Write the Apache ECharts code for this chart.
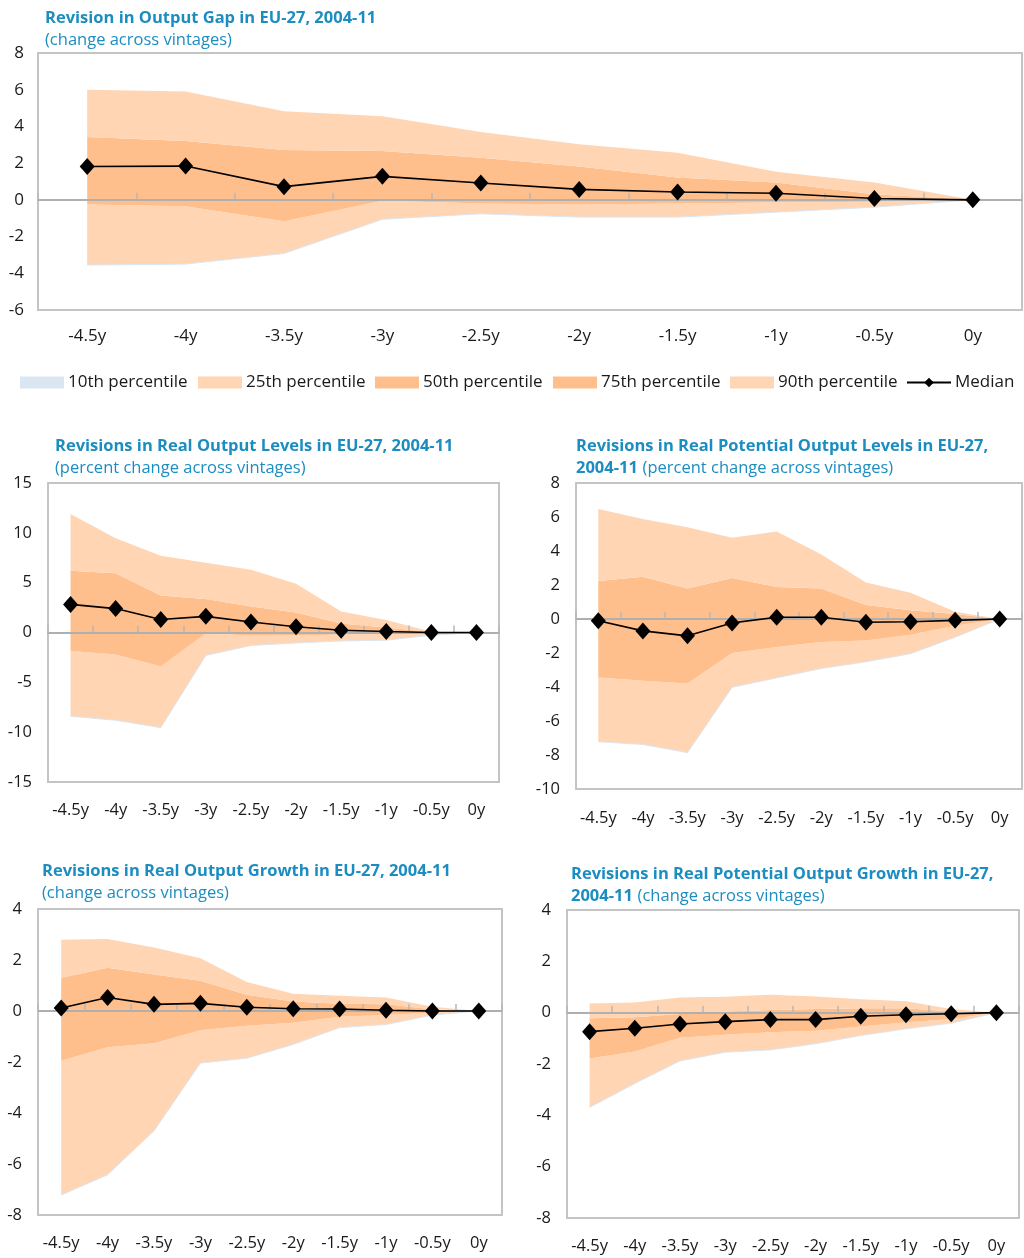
<!DOCTYPE html>
<html>
<head>
<meta charset="utf-8">
<script src="https://cdn.jsdelivr.net/npm/echarts@6/dist/echarts.min.js"></script>
<style>
html,body{margin:0;padding:0;background:#fff;}
#c{width:1024px;height:1258px;}
</style>
</head>
<body>
<div id="c"></div>
<script>
// ---- Data ----
var categories = ['-4.5y','-4y','-3.5y','-3y','-2.5y','-2y','-1.5y','-1y','-0.5y','0y'];

// Chart 1: Revision in Output Gap
var gapP10    = [-3.55,-3.5,-2.92,-1.06,-0.76,-0.94,-0.94,-0.67,-0.4,0];
var gapP25    = [-0.25,-0.35,-1.16,-0.05,-0.2,-0.25,-0.2,-0.15,-0.1,0];
var gapMedian = [1.82,1.84,0.72,1.28,0.92,0.57,0.43,0.36,0.07,0];
var gapP75    = [3.42,3.2,2.72,2.66,2.3,1.82,1.22,0.95,0.3,0];
var gapP90    = [6.0,5.9,4.83,4.55,3.7,3.03,2.57,1.53,0.95,0];

// Chart 2: Real Output Levels
var lvlP10    = [-8.4,-8.8,-9.55,-2.3,-1.3,-1.05,-0.85,-0.77,-0.27,0];
var lvlP25    = [-1.85,-2.2,-3.4,-0.1,-0.3,-0.3,-0.2,-0.1,0,0];
var lvlMedian = [2.82,2.4,1.3,1.62,1.05,0.57,0.23,0.1,0,0];
var lvlP75    = [6.2,5.95,3.7,3.35,2.6,2.0,0.9,0.5,0.05,0];
var lvlP90    = [11.9,9.45,7.7,7.0,6.3,4.9,2.1,1.25,0.07,0];

// Chart 3: Real Potential Output Levels
var potP10    = [-7.22,-7.38,-7.86,-4.02,-3.46,-2.91,-2.52,-2.04,-1.07,0];
var potP25    = [-3.44,-3.63,-3.79,-2.0,-1.65,-1.36,-1.26,-0.93,-0.39,0];
var potMedian = [-0.1,-0.7,-0.99,-0.23,0.1,0.1,-0.19,-0.16,-0.08,0];
var potP75    = [2.23,2.49,1.79,2.41,1.88,1.79,0.82,0.52,0.29,0];
var potP90    = [6.47,5.88,5.4,4.78,5.15,3.79,2.14,1.55,0.43,0];

// Chart 4: Real Output Growth
var grP10     = [-7.22,-6.42,-4.7,-2.04,-1.85,-1.31,-0.65,-0.53,-0.16,0];
var grP25     = [-1.95,-1.42,-1.26,-0.75,-0.58,-0.46,-0.23,-0.16,-0.07,0];
var grMedian  = [0.12,0.53,0.26,0.3,0.15,0.09,0.08,0.03,0,0];
var grP75     = [1.3,1.7,1.43,1.19,0.64,0.37,0.28,0.26,0.07,0];
var grP90     = [2.79,2.82,2.49,2.07,1.14,0.68,0.6,0.53,0.17,0];

// Chart 5: Real Potential Output Growth
var pgP10     = [-3.69,-2.76,-1.88,-1.54,-1.45,-1.21,-0.89,-0.63,-0.41,0];
var pgP25     = [-1.79,-1.51,-0.98,-0.86,-0.76,-0.7,-0.54,-0.37,-0.25,0];
var pgMedian  = [-0.74,-0.61,-0.44,-0.35,-0.27,-0.27,-0.14,-0.08,-0.04,0];
var pgP75     = [-0.22,-0.18,-0.05,0.05,0.1,0.14,0.17,0.17,0.05,0];
var pgP90     = [0.36,0.4,0.59,0.62,0.7,0.63,0.52,0.44,0.14,0];

var yTicks1 = {min:-6,max:8,interval:2};
var yTicks2 = {min:-15,max:15,interval:5};
var yTicks3 = {min:-10,max:8,interval:2};
var yTicks4 = {min:-8,max:4,interval:2};
var yTicks5 = {min:-8,max:4,interval:2};

// ---- Styling ----
var FONT = '"Open Sans", "Noto Sans", sans-serif';
var LIGHT = '#FFD5B3';
var DARK = '#FFBF8D';
var BLUE = '#DAE6F1';
var TITLE = '#1B8DC1';
var TEXT = '#1a1a1a';

function diff(a,b){ return a.map(function(v,i){ return +(v - b[i]).toFixed(4); }); }

var option = {
  animation:false,
  backgroundColor:'#fff',
  textStyle:{fontFamily:FONT},
  title:[], grid:[], xAxis:[], yAxis:[], series:[], legend:[]
};

var charts = [
  {grid:{left:38,top:53,width:984,height:257}, y:yTicks1, p10:gapP10,p25:gapP25,med:gapMedian,p75:gapP75,p90:gapP90,
   xMargin:18, yMargin:14, fs:17,
   title:{left:40,top:2,text:'{b|Revision in Output Gap in EU-27, 2004-11}\n{n|(change across vintages)}'}},
  {grid:{left:48,top:483,width:451,height:299}, y:yTicks2, p10:lvlP10,p25:lvlP25,med:lvlMedian,p75:lvlP75,p90:lvlP90,
   xMargin:20, yMargin:16, fs:16.5,
   title:{left:50,top:430,text:'{b|Revisions in Real Output Levels in EU-27, 2004-11}\n{n|(percent change across vintages)}'}},
  {grid:{left:576,top:483,width:446,height:306}, y:yTicks3, p10:potP10,p25:potP25,med:potMedian,p75:potP75,p90:potP90,
   xMargin:21, yMargin:16, fs:16.5,
   title:{left:571,top:430,text:'{b|Revisions in Real Potential Output Levels in EU-27,}\n{b|2004-11} {n|(percent change across vintages)}'}},
  {grid:{left:38,top:909,width:464,height:306}, y:yTicks4, p10:grP10,p25:grP25,med:grMedian,p75:grP75,p90:grP90,
   xMargin:20, yMargin:16, fs:16.5,
   title:{left:37,top:855,text:'{b|Revisions in Real Output Growth in EU-27, 2004-11}\n{n|(change across vintages)}'}},
  {grid:{left:567,top:910,width:452,height:308}, y:yTicks5, p10:pgP10,p25:pgP25,med:pgMedian,p75:pgP75,p90:pgP90,
   xMargin:20, yMargin:16, fs:16.5,
   title:{left:566,top:858,text:'{b|Revisions in Real Potential Output Growth in EU-27,}\n{b|2004-11} {n|(change across vintages)}'}}
];

charts.forEach(function(c, i){
  option.title.push({
    left:c.title.left, top:c.title.top, text:c.title.text,
    textStyle:{rich:{
      b:{fontFamily:FONT,fontWeight:'bold',fontSize:16.5,color:TITLE,lineHeight:22.5},
      n:{fontFamily:FONT,fontWeight:'normal',fontSize:16.5,color:TITLE,lineHeight:22.5}
    }}
  });
  option.grid.push({left:c.grid.left, top:c.grid.top, width:c.grid.width, height:c.grid.height,
    show:true, borderColor:'#C4C4C4', borderWidth:2, backgroundColor:'transparent', containLabel:false});
  // bottom label axis
  option.xAxis.push({type:'category', gridIndex:i, data:categories, position:'bottom', boundaryGap:true,
    axisLine:{show:false, onZero:false}, axisTick:{show:false}, splitLine:{show:false},
    axisLabel:{color:TEXT, fontSize:c.fs, fontFamily:FONT, margin:c.xMargin, interval:0}});
  // zero line axis
  option.xAxis.push({type:'category', gridIndex:i, data:categories, position:'top', boundaryGap:true, z:5,
    axisLine:{show:true, onZero:true, lineStyle:{color:'#AFAFAF', width:2}},
    axisTick:{show:true, length:7, inside:false, lineStyle:{color:'#B8B8B8', width:1.5}},
    axisLabel:{show:false}, splitLine:{show:false}});
  option.yAxis.push({type:'value', gridIndex:i, min:c.y.min, max:c.y.max, interval:c.y.interval,
    axisLine:{show:false}, axisTick:{show:false}, splitLine:{show:false},
    axisLabel:{color:TEXT, fontSize:c.fs, fontFamily:FONT, margin:c.yMargin}});
  var xi = i*2, yi = i, st = 'band'+i;
  function band(name, data, color, showLine){
    return {name:name, type:'line', xAxisIndex:xi, yAxisIndex:yi, data:data, stack:st, stackStrategy:'all',
      symbol:'none', silent:true, z:2,
      lineStyle: showLine ? {width:1, color:BLUE} : {width:0, opacity:0},
      itemStyle:{color:color},
      areaStyle: showLine ? undefined : {color:color, opacity:1},
      emphasis:{disabled:true}};
  }
  var base = band('10th percentile', c.p10, BLUE, true);
  delete base.areaStyle;
  option.series.push(base);
  option.series.push(band('25th percentile', diff(c.p25,c.p10), LIGHT));
  option.series.push(band('50th percentile', diff(c.med,c.p25), DARK));
  option.series.push(band('75th percentile', diff(c.p75,c.med), DARK));
  option.series.push(band('90th percentile', diff(c.p90,c.p75), LIGHT));
  option.series.push({name:'Median', type:'line', xAxisIndex:xi, yAxisIndex:yi, data:c.med, z:10,
    symbol:'diamond', symbolSize:[15,17], itemStyle:{color:'#000'}, lineStyle:{color:'#000', width:1.6},
    emphasis:{disabled:true}});
});

// Legend (one per item, placed like the reference)
var legendItems = [
  {name:'10th percentile', left:15, color:BLUE},
  {name:'25th percentile', left:193, color:LIGHT},
  {name:'50th percentile', left:370, color:DARK},
  {name:'75th percentile', left:548, color:DARK},
  {name:'90th percentile', left:725, color:LIGHT},
  {name:'Median', left:901, color:null}
];
legendItems.forEach(function(it){
  var d = it.color ? {name:it.name, icon:'rect', itemStyle:{color:it.color, borderWidth:0}}
                   : {name:it.name};
  option.legend.push({left:it.left, top:369, itemWidth:44, itemHeight:12, itemGap:0, selectedMode:false,
    data:[d], textStyle:{color:TEXT, fontSize:17, fontFamily:FONT, padding:[0,0,0,-1]}});
});

var chart = echarts.init(document.getElementById('c'), null, {renderer:'canvas'});
chart.setOption(option);
</script>
</body>
</html>
